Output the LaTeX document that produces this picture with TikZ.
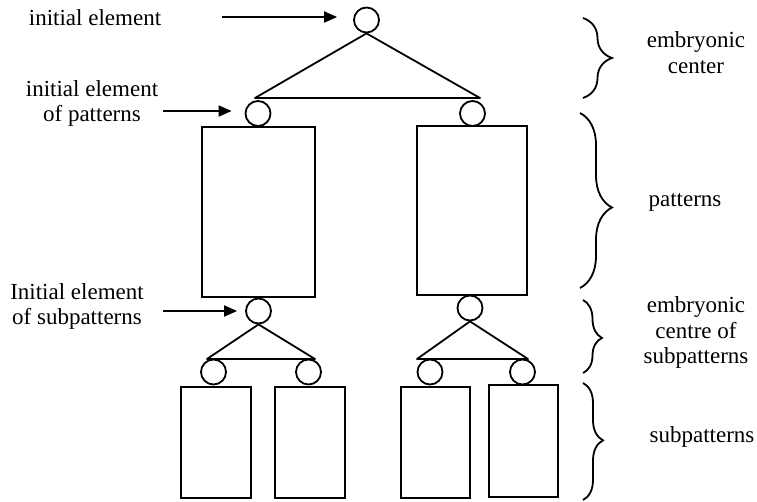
\documentclass[tikz,border=0pt]{standalone}
\usepackage{fontspec}
\setmainfont{Liberation Serif}
\usetikzlibrary{arrows.meta,decorations.pathreplacing}
\begin{document}
\begin{tikzpicture}[x=1pt,y=-1pt,
  line width=1.8pt,
  elem/.style={circle,draw,minimum size=25pt,inner sep=0pt},
  block/.style={draw,inner sep=0pt},
  lbl/.style={font=\fontsize{23}{25.5}\selectfont,inner sep=0pt,align=center},
  pointer/.style={-{Triangle[length=13pt,width=11pt]}},
  grp/.style={decorate,decoration={brace,amplitude=#1}},
]
\useasboundingbox (0,0) rectangle (757,502);

% initial element and the two pattern elements
\node[elem] (c0) at (366.5,20) {};
\node[elem] (p1) at (258,113.5) {};
\node[elem] (p2) at (472.5,113.5) {};

% patterns
\node[block,minimum width=113pt,minimum height=170pt] (P1) at (258.5,212) {};
\node[block,minimum width=110pt,minimum height=169pt] (P2) at (472,210.5) {};

% elements of the subpatterns
\node[elem] (s1) at (258.5,311) {};
\node[elem] (s2) at (470,308) {};
\node[elem] (s1a) at (213.5,372) {};
\node[elem] (s1b) at (308.5,372) {};
\node[elem] (s2a) at (430,372) {};
\node[elem] (s2b) at (522.5,372) {};

% subpatterns
\node[block,minimum width=70pt,minimum height=111pt] (Q1) at (216,442.5) {};
\node[block,minimum width=70pt,minimum height=111pt] (Q2) at (310,442.5) {};
\node[block,minimum width=69pt,minimum height=111pt] (Q3) at (435.5,442.5) {};
\node[block,minimum width=69pt,minimum height=112pt] (Q4) at (523.5,441) {};

% triangle corners
\coordinate (t0l) at (255,98);
\coordinate (t0r) at (480,98);
\coordinate (t1l) at (207,359);
\coordinate (t1r) at (315,359);
\coordinate (t2l) at (417,359);
\coordinate (t2r) at (528,359);

% embryonic triangles
\draw[line join=round] (c0.south) -- (t0l) -- (t0r) -- (c0.south);
\draw[line join=round] (s1.south) -- (t1l) -- (t1r) -- (s1.south);
\draw[line join=round] (s2.south) -- (t2l) -- (t2r) -- (s2.south);

% left labels with their pointers
\node[lbl,anchor=base] (L0) at (95,26) {initial element};
\node[lbl] (L1) at (92,103.3) {initial element\\of patterns};
\node[lbl] (L2) at (77,306.3) {Initial element\\of subpatterns};

\coordinate (a0) at (222,17);
\coordinate (a1) at (163,111);
\coordinate (a2) at (163,311);
\draw[pointer,shorten >=16pt] (a0) -- (a0 -| c0.west);
\draw[pointer,shorten >=13pt] (a1) -- (a1 -| p1.west);
\draw[pointer,shorten >=8pt] (a2) -- (a2 -| s1.west);

% braces and level names on the right
\draw[grp=29pt] (583,18) -- (583,98);
\draw[decorate,decoration={brace,amplitude=32pt,aspect=0.54}] (580,113) -- (580,288);
\draw[decorate,decoration={brace,amplitude=19pt,aspect=0.52}] (583,300) -- (583,373);
\draw[decorate,decoration={brace,amplitude=20pt,aspect=0.49}] (583,383) -- (583,500);

\node[lbl] (R1) at (696,52.4) {embryonic\\center};
\node[lbl,anchor=base] (R2) at (685,207) {patterns};
\node[lbl] (R3) at (696,332.8) {embryonic\\centre of\\subpatterns};
\node[lbl,anchor=base] (R4) at (702,442) {subpatterns};
\end{tikzpicture}
\end{document}
